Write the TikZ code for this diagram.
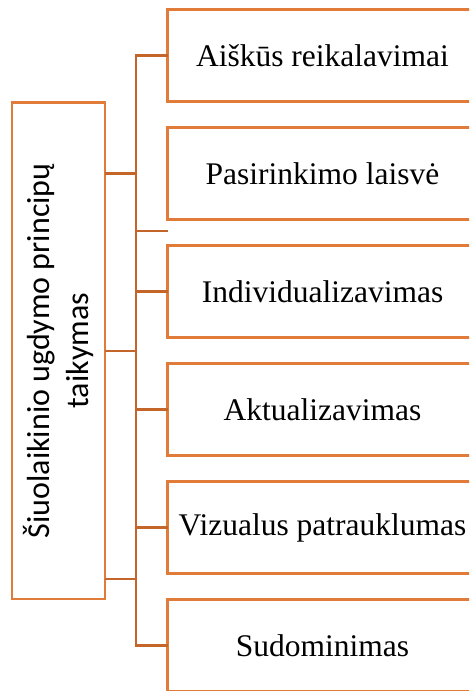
\documentclass[tikz,border=0pt]{standalone}
\usepackage{fontspec}
\setmainfont{Liberation Serif}
\newfontfamily\calibri{Carlito}
\usetikzlibrary{positioning}
\definecolor{boxorange}{HTML}{E07B39}
\definecolor{linkorange}{HTML}{C4652A}

\begin{document}
\begin{tikzpicture}[x=1pt,y=1pt,node distance=26pt,
  princ/.style={rectangle,draw=boxorange,line width=2.5pt,outer sep=0pt,minimum width=310pt,minimum height=92pt,font=\fontsize{31.5}{38}\selectfont},
  link/.style={draw=linkorange,line width=2.5pt}]
\path[use as bounding box,clip] (0,0) rectangle (469,-691);

\node[rectangle,draw=boxorange,line width=2.5pt,outer sep=0pt,minimum width=93pt,minimum height=496.5pt] (ugd) at (58.5,-350.75) {};
\node[rotate=90,align=center,font=\fontsize{32}{39}\calibri] (ugdtxt) at (ugd) {Šiuolaikinio ugdymo principų\\taikymas};

\node[princ] (prina) at (322.5,-55.5) {Aiškūs reikalavimai};
\node[princ,below=of prina] (prinb) {Pasirinkimo laisvė};
\node[princ,below=of prinb] (princ) {Individualizavimas};
\node[princ,below=of princ] (prind) {Aktualizavimas};
\node[princ,below=of prind] (prine) {Vizualus patrauklumas};
\node[princ,below=of prine] (prinf) {Sudominimas};

\coordinate (bus) at (136,0);
\coordinate (stub) at (167.5,-231);
\coordinate (tail) at (105,-579);

\draw[link] (prina.west) -- (bus |- prina.west) -- (bus |- prinf.west) -- (prinf.west);
\draw[link] (bus |- princ.west) -- (princ.west);
\draw[link] (bus |- prind.west) -- (prind.west);
\draw[link] (bus |- prine.west) -- (prine.west);
\draw[link] (bus |- stub) -- (stub);

\draw[link] (ugd.east |- prinb.west) -- (bus |- prinb.west);
\draw[link] (ugd.east) -- (bus |- ugd.east);
\draw[link] (ugd.east |- tail) -- (bus |- tail);

\end{tikzpicture}
\end{document}
